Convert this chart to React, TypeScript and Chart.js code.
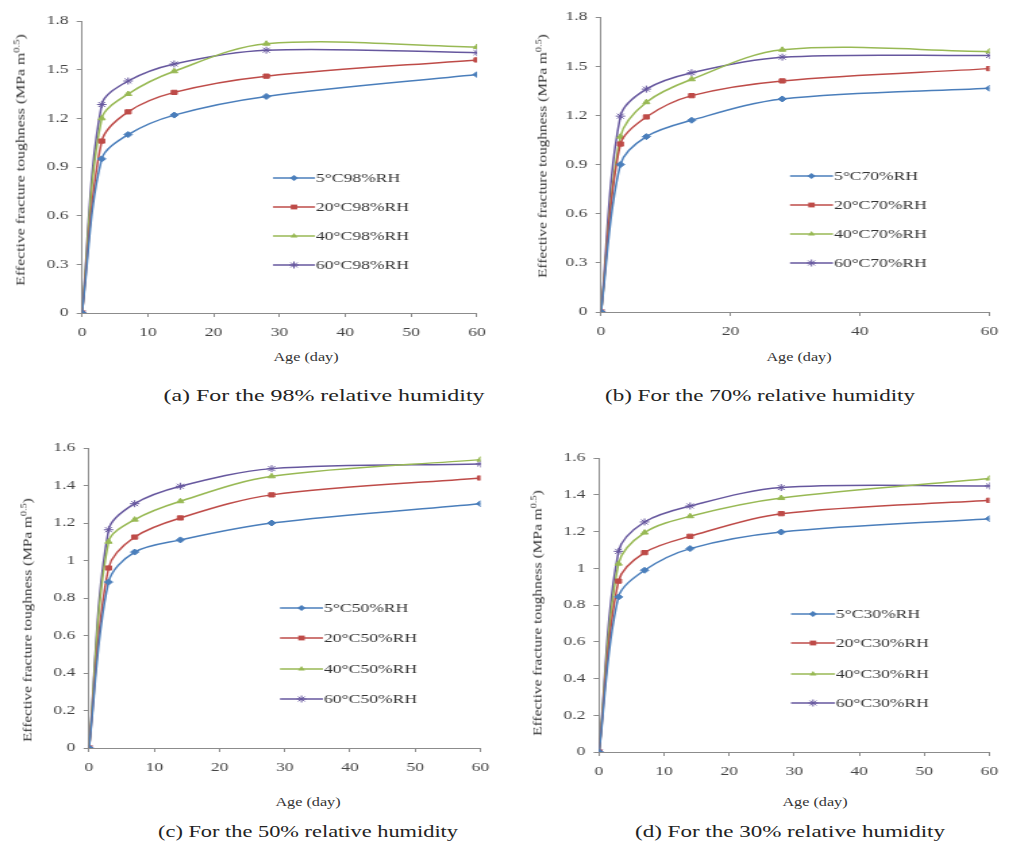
import React, { useEffect, useRef } from 'react';
import { Chart, registerables } from 'chart.js';

Chart.register(...registerables);

// ---------- data ----------
const AGES = [0, 3, 7, 14, 28, 60];

const A_LABELS = ['5°C98%RH', '20°C98%RH', '40°C98%RH', '60°C98%RH'];
const A_5C = [0, 0.95, 1.1, 1.22, 1.335, 1.47];
const A_20C = [0, 1.06, 1.24, 1.36, 1.46, 1.56];
const A_40C = [0, 1.2, 1.35, 1.49, 1.66, 1.64];
const A_60C = [0, 1.285, 1.43, 1.535, 1.62, 1.605];

const B_LABELS = ['5°C70%RH', '20°C70%RH', '40°C70%RH', '60°C70%RH'];
const B_5C = [0, 0.9, 1.07, 1.17, 1.3, 1.365];
const B_20C = [0, 1.025, 1.19, 1.32, 1.41, 1.485];
const B_40C = [0, 1.07, 1.28, 1.42, 1.6, 1.59];
const B_60C = [0, 1.195, 1.36, 1.46, 1.555, 1.565];

const C_LABELS = ['5°C50%RH', '20°C50%RH', '40°C50%RH', '60°C50%RH'];
const C_5C = [0, 0.885, 1.045, 1.11, 1.2, 1.303];
const C_20C = [0, 0.96, 1.125, 1.227, 1.35, 1.44];
const C_40C = [0, 1.1, 1.218, 1.316, 1.449, 1.538];
const C_60C = [0, 1.164, 1.303, 1.396, 1.49, 1.515];

const D_LABELS = ['5°C30%RH', '20°C30%RH', '40°C30%RH', '60°C30%RH'];
const D_5C = [0, 0.844, 0.989, 1.107, 1.197, 1.27];
const D_20C = [0, 0.93, 1.085, 1.174, 1.297, 1.37];
const D_40C = [0, 1.025, 1.194, 1.283, 1.382, 1.488];
const D_60C = [0, 1.092, 1.252, 1.339, 1.439, 1.448];

const Y_TICKS_18 = [0, 0.3, 0.6, 0.9, 1.2, 1.5, 1.8];
const Y_TICKS_16 = [0, 0.2, 0.4, 0.6, 0.8, 1, 1.2, 1.4, 1.6];
const X_TICKS_10 = [0, 10, 20, 30, 40, 50, 60];
const X_TICKS_20 = [0, 20, 40, 60];

const CAPTIONS = [
  '(a) For the 98% relative humidity',
  '(b) For the 70% relative humidity',
  '(c) For the 50% relative humidity',
  '(d) For the 30% relative humidity',
];
const X_TITLE = 'Age (day)';
const Y_TITLE_MAIN = 'Effective fracture toughness (MPa m';
const Y_TITLE_SUP = '0.5';

// ---------- styles ----------
const COLORS = ['#4A7EBB', '#BE4B48', '#98B954', '#66579E'];
const STYLES = ['rectRot', 'rect', 'triangle', 'star'];
const RADII = [3, 3, 3, 3.5];
const SERIF = '"Liberation Serif", "Times New Roman", serif';
const SX = 1.35; // horizontal stretch of the canvases

type Layout = {
  L: number; T: number; W: number; H: number;
  plot: { l: number; r: number; t: number; b: number };
  legend: { x1: number; x2: number; tx: number; ys: number[] };
};

const PANELS = [
  {
    labels: A_LABELS, series: [A_5C, A_20C, A_40C, A_60C], yTicks: Y_TICKS_18, xTicks: X_TICKS_10,
    layout: { L: 0, T: 0, W: 500, H: 350, plot: { l: 82, r: 477, t: 21, b: 313 },
      legend: { x1: 273, x2: 315, tx: 316, ys: [178, 207, 236, 265] } },
    yTitle: { cx: 20, cy: 160, len: 258 }, xTitle: { cx: 306, cy: 357 }, caption: { cx: 324, cy: 396, len: 321 },
  },
  {
    labels: B_LABELS, series: [B_5C, B_20C, B_40C, B_60C], yTicks: Y_TICKS_18, xTicks: X_TICKS_20,
    layout: { L: 500, T: 0, W: 509, H: 350, plot: { l: 601, r: 993, t: 17, b: 312 },
      legend: { x1: 790, x2: 833, tx: 834, ys: [176, 205, 234, 263] } },
    yTitle: { cx: 542, cy: 156, len: 250 }, xTitle: { cx: 799, cy: 357 }, caption: { cx: 760, cy: 396, len: 310 },
  },
  {
    labels: C_LABELS, series: [C_5C, C_20C, C_40C, C_60C], yTicks: Y_TICKS_16, xTicks: X_TICKS_10,
    layout: { L: 0, T: 425, W: 500, H: 370, plot: { l: 89, r: 487, t: 448, b: 748 },
      legend: { x1: 280, x2: 323, tx: 324, ys: [608, 638, 669, 699] } },
    yTitle: { cx: 27, cy: 620, len: 250 }, xTitle: { cx: 308, cy: 802 }, caption: { cx: 308, cy: 832, len: 300 },
  },
  {
    labels: D_LABELS, series: [D_5C, D_20C, D_40C, D_60C], yTicks: Y_TICKS_16, xTicks: X_TICKS_10,
    layout: { L: 500, T: 425, W: 509, H: 370, plot: { l: 599, r: 999, t: 458, b: 752 },
      legend: { x1: 791, x2: 835, tx: 836, ys: [614, 643, 674, 703] } },
    yTitle: { cx: 537, cy: 613, len: 252 }, xTitle: { cx: 815, cy: 802 }, caption: { cx: 790, cy: 832, len: 310 },
  },
];

function drawMarker(ctx: CanvasRenderingContext2D, style: string, x: number, y: number, r: number, color: string) {
  ctx.save();
  ctx.fillStyle = color;
  ctx.strokeStyle = color;
  ctx.lineWidth = 1;
  ctx.beginPath();
  if (style === 'rectRot') {
    ctx.moveTo(x, y - r); ctx.lineTo(x + r, y); ctx.lineTo(x, y + r); ctx.lineTo(x - r, y); ctx.closePath(); ctx.fill();
  } else if (style === 'rect') {
    const s = r * 0.8;
    ctx.rect(x - s, y - s, 2 * s, 2 * s); ctx.fill();
  } else if (style === 'triangle') {
    ctx.moveTo(x, y - r); ctx.lineTo(x + r * 0.87, y + r * 0.5); ctx.lineTo(x - r * 0.87, y + r * 0.5); ctx.closePath(); ctx.fill();
  } else {
    ctx.moveTo(x - r, y); ctx.lineTo(x + r, y);
    ctx.moveTo(x, y - r); ctx.lineTo(x, y + r);
    const d = r * 0.7;
    ctx.moveTo(x - d, y - d); ctx.lineTo(x + d, y + d);
    ctx.moveTo(x - d, y + d); ctx.lineTo(x + d, y - d);
    ctx.stroke();
  }
  ctx.restore();
}

function PanelChart({ panel }: { panel: (typeof PANELS)[number] }) {
  const ref = useRef<HTMLCanvasElement | null>(null);
  const lay: Layout = panel.layout;
  const wi = Math.round(lay.W / SX);

  useEffect(() => {
    const canvas = ref.current;
    if (!canvas) return;
    const sx = lay.W / wi;
    const toIX = (x: number) => (x - lay.L) / sx;
    const yW = toIX(lay.plot.l);
    const padRight = wi - toIX(lay.plot.r);
    const padTop = lay.plot.t - lay.T;
    const xH = lay.T + lay.H - lay.plot.b;
    const axisColor = '#8c8c8c';
    const tickFont = { family: SERIF, size: 13 };

    const legendPlugin = {
      id: 'insideLegend',
      afterDraw(chart: any) {
        const ctx: CanvasRenderingContext2D = chart.ctx;
        ctx.save();
        panel.labels.forEach((label, i) => {
          const y = lay.legend.ys[i] - lay.T;
          const x1 = toIX(lay.legend.x1);
          const x2 = toIX(lay.legend.x2);
          ctx.strokeStyle = COLORS[i];
          ctx.lineWidth = 1.5;
          ctx.beginPath();
          ctx.moveTo(x1, y);
          ctx.lineTo(x2, y);
          ctx.stroke();
          drawMarker(ctx, STYLES[i], (x1 + x2) / 2, y, RADII[i], COLORS[i]);
          ctx.fillStyle = '#333';
          ctx.font = `13px ${SERIF}`;
          ctx.textBaseline = 'middle';
          ctx.textAlign = 'left';
          ctx.fillText(label, toIX(lay.legend.tx), y + 1);
        });
        ctx.restore();
      },
    };

    const chart = new Chart(canvas, {
      type: 'line',
      data: {
        datasets: panel.series.map((vals, i) => ({
          label: panel.labels[i],
          data: AGES.map((a, j) => ({ x: a, y: vals[j] })),
          borderColor: COLORS[i],
          backgroundColor: COLORS[i],
          borderWidth: 1.5,
          pointStyle: STYLES[i] as any,
          pointRadius: RADII[i],
          pointBorderWidth: 1,
          pointBorderColor: COLORS[i],
          pointBackgroundColor: COLORS[i],
          tension: 0.33,
          fill: false,
        })),
      },
      options: {
        responsive: false,
        animation: false,
        events: [],
        layout: { padding: { left: 0, right: padRight, top: padTop, bottom: 0 } },
        plugins: { legend: { display: false }, tooltip: { enabled: false }, title: { display: false } },
        scales: {
          x: {
            type: 'linear',
            min: 0,
            max: 60,
            afterBuildTicks: (s: any) => { s.ticks = panel.xTicks.map((v) => ({ value: v })); },
            afterFit: (s: any) => { s.height = xH; },
            grid: { drawOnChartArea: false, drawTicks: true, tickLength: 4, color: axisColor },
            border: { display: true, color: axisColor, width: 1 },
            ticks: { font: tickFont, color: '#444', padding: 8, maxRotation: 0, autoSkip: false,
              callback: (v: any) => String(v) },
          },
          y: {
            type: 'linear',
            min: 0,
            max: panel.yTicks[panel.yTicks.length - 1],
            afterBuildTicks: (s: any) => { s.ticks = panel.yTicks.map((v) => ({ value: v })); },
            afterFit: (s: any) => { s.width = yW; },
            grid: { drawOnChartArea: false, drawTicks: true, tickLength: 4, color: axisColor },
            border: { display: true, color: axisColor, width: 1 },
            ticks: { font: tickFont, color: '#444', padding: 6,
              callback: (v: any) => String(Number(Number(v).toFixed(1))) },
          },
        },
      } as any,
      plugins: [legendPlugin],
    });
    return () => chart.destroy();
  }, []);

  return (
    <canvas
      ref={ref}
      width={wi}
      height={lay.H}
      style={{ position: 'absolute', left: lay.L, top: lay.T, width: lay.W, height: lay.H }}
    />
  );
}

let measureCtx: CanvasRenderingContext2D | null = null;
function measure(text: string, font: string) {
  if (!measureCtx) measureCtx = document.createElement('canvas').getContext('2d');
  if (!measureCtx) return text.length * 6;
  measureCtx.font = font;
  return measureCtx.measureText(text).width;
}

function StretchText(props: {
  children: React.ReactNode; measureText: string; size: number; cx: number; cy: number;
  len?: number; scale?: number; rotate?: boolean; color?: string;
}) {
  const natural = measure(props.measureText, `${props.size}px ${SERIF}`);
  const s = props.len ? props.len / natural : props.scale ?? 1;
  return (
    <div
      style={{
        position: 'absolute',
        left: props.cx,
        top: props.cy,
        transform: `translate(-50%, -50%) ${props.rotate ? 'rotate(-90deg)' : ''} scaleX(${s})`,
        whiteSpace: 'nowrap',
        fontFamily: SERIF,
        fontSize: props.size,
        lineHeight: 1,
        color: props.color ?? '#333',
      }}
    >
      {props.children}
    </div>
  );
}

export default function App() {
  return (
    <div style={{ position: 'absolute', left: 0, top: 0, width: 1009, height: 844, background: '#fff', overflow: 'hidden' }}>
      {PANELS.map((p, i) => (
        <React.Fragment key={i}>
          <PanelChart panel={p} />
          <StretchText measureText={Y_TITLE_MAIN + '0.5)'} size={12} cx={p.yTitle.cx} cy={p.yTitle.cy} len={p.yTitle.len} rotate>
            {Y_TITLE_MAIN}
            <sup style={{ fontSize: 8 }}>{Y_TITLE_SUP}</sup>)
          </StretchText>
          <StretchText measureText={X_TITLE} size={12} cx={p.xTitle.cx} cy={p.xTitle.cy} scale={SX}>
            {X_TITLE}
          </StretchText>
          <StretchText measureText={CAPTIONS[i]} size={16} cx={p.caption.cx} cy={p.caption.cy} len={p.caption.len} color="#222">
            {CAPTIONS[i]}
          </StretchText>
        </React.Fragment>
      ))}
    </div>
  );
}
